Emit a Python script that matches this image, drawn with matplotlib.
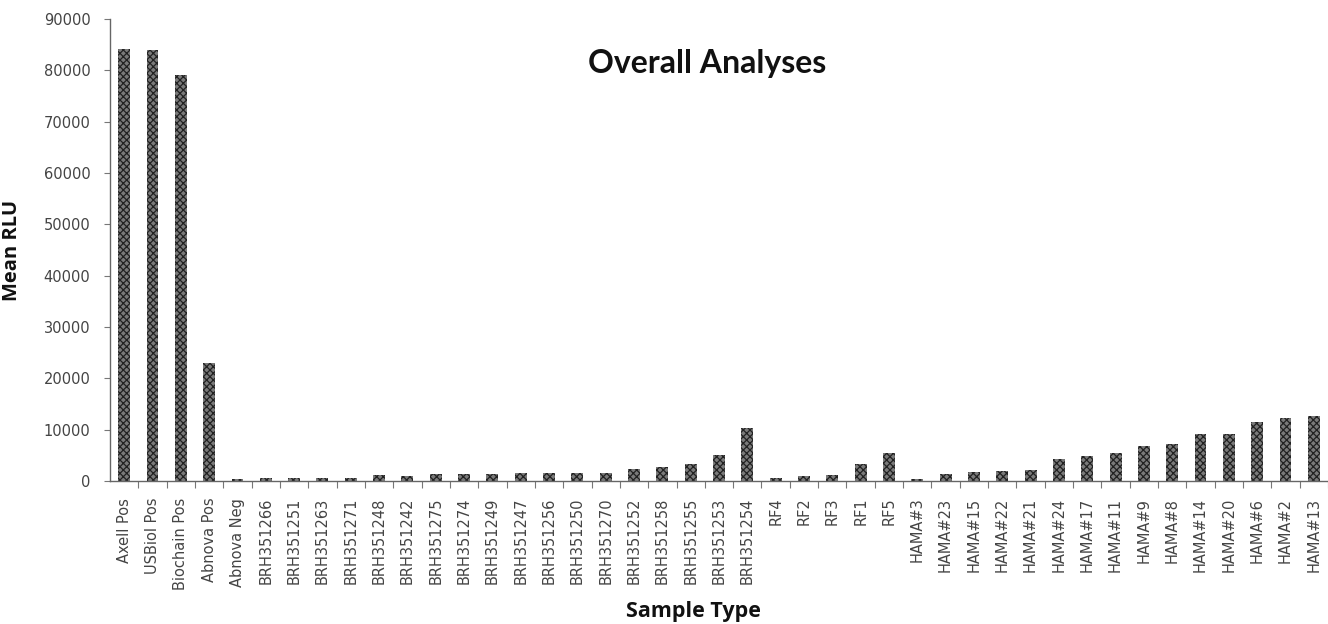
import matplotlib
matplotlib.use("Agg")
import matplotlib.pyplot as plt
import numpy as np

categories = [
    "Axell Pos", "USBiol Pos", "Biochain Pos", "Abnova Pos", "Abnova Neg",
    "BRH351266", "BRH351251", "BRH351263", "BRH351271", "BRH351248",
    "BRH351242", "BRH351275", "BRH351274", "BRH351249", "BRH351247",
    "BRH351256", "BRH351250", "BRH351270", "BRH351252", "BRH351258",
    "BRH351255", "BRH351253", "BRH351254",
    "RF4", "RF2", "RF3", "RF1", "RF5",
    "HAMA#3", "HAMA#23", "HAMA#15", "HAMA#22", "HAMA#21", "HAMA#24",
    "HAMA#17", "HAMA#11", "HAMA#9", "HAMA#8", "HAMA#14", "HAMA#20",
    "HAMA#6", "HAMA#2", "HAMA#13",
]
mean_rlu = [
    84200, 84000, 79100, 22900, 300,
    600, 600, 600, 600, 1100,
    1000, 1300, 1300, 1300, 1650,
    1650, 1600, 1600, 2400, 2750,
    3300, 5000, 10250,
    500, 900, 1200, 3300, 5400,
    300, 1300, 1700, 2000, 2200, 4200,
    4900, 5400, 6800, 7200, 9150, 9150,
    11400, 12300, 12700,
]
y_ticks = [0, 10000, 20000, 30000, 40000, 50000, 60000, 70000, 80000, 90000]

W, H = 1328, 624
fig = plt.figure(figsize=(W / 100, H / 100), dpi=100)
left_px, top_px, bottom_px = 110, 19, 481
ax = fig.add_axes([left_px / W, 1 - bottom_px / H,
                   1 - left_px / W, (bottom_px - top_px) / H])

plt.rcParams['hatch.linewidth'] = 0.9
x = np.arange(len(categories))
ax.bar(x, mean_rlu, width=0.42, facecolor="#7a7a7a", edgecolor="#222222",
       hatch="xxxxx", linewidth=0)

spacing_px = 28.48
ax.set_xlim(-0.5, (W - left_px) / spacing_px - 0.5)
ax.set_ylim(0, 90000)

for side in ("top", "right"):
    ax.spines[side].set_visible(False)
for side in ("left", "bottom"):
    ax.spines[side].set_linestyle((0, (1, 1)))
    ax.spines[side].set_color("#666666")
    ax.spines[side].set_linewidth(1.0)

ax.set_yticks(y_ticks)
ax.set_yticklabels([str(v) for v in y_ticks])
ax.tick_params(axis="y", direction="out", length=4, width=0.8, color="#777777",
               labelsize=10.5, labelcolor="#444444", pad=10)

ax.set_xticks(x)
ax.set_xticklabels(categories, rotation=90, fontsize=10.5, color="#444444")
ax.tick_params(axis="x", which="major", length=0, pad=12)
ax.set_xticks(np.arange(len(categories)) + 0.5, minor=True)
ax.tick_params(axis="x", which="minor", direction="out", length=5, width=0.8,
               color="#777777")

fig.text(707 / W, 1 - 73 / H, "Overall Analyses", ha="center", va="baseline",
         fontsize=23, fontweight="bold", family="Lato", color="#111111")
fig.text(12 / W, 1 - 250 / H, "Mean RLU", ha="center", va="center",
         rotation=90, fontsize=14.5, fontweight="bold", family="Open Sans",
         color="#111111")
fig.text(693 / W, 1 - 612 / H, "Sample Type", ha="center", va="center",
         fontsize=15.5, fontweight="bold", family="Open Sans", color="#111111")

fig.savefig("out.png", dpi=100)
